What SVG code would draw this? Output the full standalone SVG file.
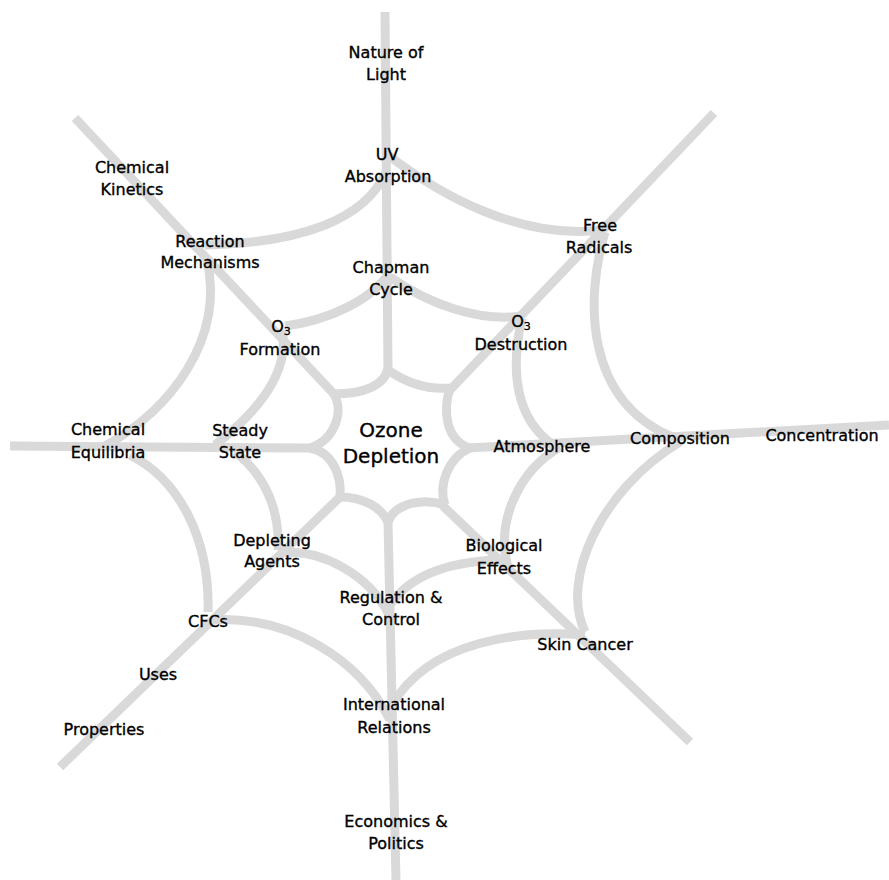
<svg xmlns="http://www.w3.org/2000/svg" width="889" height="880" viewBox="0 0 889 880">
<style>
.w{fill:none;stroke:#d9d9d9;stroke-width:9;stroke-linecap:butt;stroke-linejoin:round}
text{font-family:"DejaVu Sans","Liberation Sans",sans-serif;font-size:16px;fill:#000;stroke:#000;stroke-width:0.35;text-anchor:middle}
.big{font-size:20px}
.sub{font-size:11px}
</style>
<rect width="889" height="880" fill="#fff"/>
<g id="connectors">
<!-- spokes -->
<path class="w" d="M385,12 L388,370"/>
<path class="w" d="M714,113 L450,390"/>
<path class="w" d="M889,425 L468,448"/>
<path class="w" d="M443,506 L690,742"/>
<path class="w" d="M388,522 L396,880"/>
<path class="w" d="M340,497 L60,767"/>
<path class="w" d="M10,446 L310,448"/>
<path class="w" d="M75,118 L333,393"/>
<!-- inner ring -->
<path class="w" d="M333,394 C365,394 385,385 388,368"/>
<path class="w" d="M388,370 C405,382 425,390 450,388"/>
<path class="w" d="M450,388 C443,410 445,440 470,448"/>
<path class="w" d="M470,448 C448,458 438,485 445,505"/>
<path class="w" d="M445,505 C425,498 395,502 388,522"/>
<path class="w" d="M388,522 C380,505 360,497 340,497"/>
<path class="w" d="M340,497 C342,475 332,452 310,448"/>
<path class="w" d="M310,448 C335,440 345,410 333,393"/>
<!-- middle ring -->
<path class="w" d="M285,326 C330,320 370,300 388,275"/>
<path class="w" d="M390,277 C430,305 480,322 522,316"/>
<path class="w" d="M522,318 C510,370 515,420 555,446"/>
<path class="w" d="M560,447 C520,470 495,520 508,568"/>
<path class="w" d="M497,560 C450,562 410,575 390,605"/>
<path class="w" d="M280,553 C320,548 370,575 389,615"/>
<path class="w" d="M278,550 C280,510 265,475 235,452"/>
<path class="w" d="M215,445 C260,410 290,370 282,330"/>
<!-- outer ring -->
<path class="w" d="M205,245 C300,243 365,220 386,172"/>
<path class="w" d="M388,155 C440,195 520,240 602,230"/>
<path class="w" d="M605,232 C585,300 585,400 672,437"/>
<path class="w" d="M680,442 C600,490 560,580 585,632"/>
<path class="w" d="M585,635 C520,630 430,640 392,705"/>
<path class="w" d="M212,620 C290,615 360,660 390,720"/>
<path class="w" d="M208,612 C210,540 180,480 130,455"/>
<path class="w" d="M105,446 C170,410 225,340 207,260"/>
</g>
<g id="n-nature"><text x="386" y="58">Nature of</text><text x="386" y="80">Light</text></g>
<g id="n-uv"><text x="387" y="160">UV</text><text x="388" y="182">Absorption</text></g>
<g id="n-kinetics"><text x="132" y="173">Chemical</text><text x="132" y="195">Kinetics</text></g>
<g id="n-reaction"><text x="210" y="247">Reaction</text><text x="210" y="268">Mechanisms</text></g>
<g id="n-chapman"><text x="391" y="273">Chapman</text><text x="391" y="295">Cycle</text></g>
<g id="n-formation"><text x="281" y="332">O<tspan class="sub" dy="3">3</tspan></text><text x="280" y="355">Formation</text></g>
<g id="n-destruction"><text x="521" y="327">O<tspan class="sub" dy="3">3</tspan></text><text x="521" y="350">Destruction</text></g>
<g id="n-radicals"><text x="600" y="231">Free</text><text x="599" y="253">Radicals</text></g>
<g id="n-equilibria"><text x="108" y="435">Chemical</text><text x="108" y="458">Equilibria</text></g>
<g id="n-steady"><text x="240" y="436">Steady</text><text x="240" y="458">State</text></g>
<g id="n-ozone"><text class="big" x="391" y="437">Ozone</text><text class="big" x="391" y="463">Depletion</text></g>
<g id="n-atmosphere"><text x="542" y="452">Atmosphere</text></g>
<g id="n-composition"><text x="680" y="444">Composition</text></g>
<g id="n-concentration"><text x="822" y="441">Concentration</text></g>
<g id="n-agents"><text x="272" y="546">Depleting</text><text x="272" y="567">Agents</text></g>
<g id="n-biological"><text x="504" y="551">Biological</text><text x="504" y="574">Effects</text></g>
<g id="n-regulation"><text x="391" y="603">Regulation &amp;</text><text x="391" y="625">Control</text></g>
<g id="n-cfcs"><text x="208" y="627">CFCs</text></g>
<g id="n-uses"><text x="158" y="680">Uses</text></g>
<g id="n-properties"><text x="104" y="735">Properties</text></g>
<g id="n-international"><text x="394" y="710">International</text><text x="394" y="733">Relations</text></g>
<g id="n-economics"><text x="396" y="827">Economics &amp;</text><text x="396" y="849">Politics</text></g>
<g id="n-skin"><text x="585" y="650">Skin Cancer</text></g>
</svg>
